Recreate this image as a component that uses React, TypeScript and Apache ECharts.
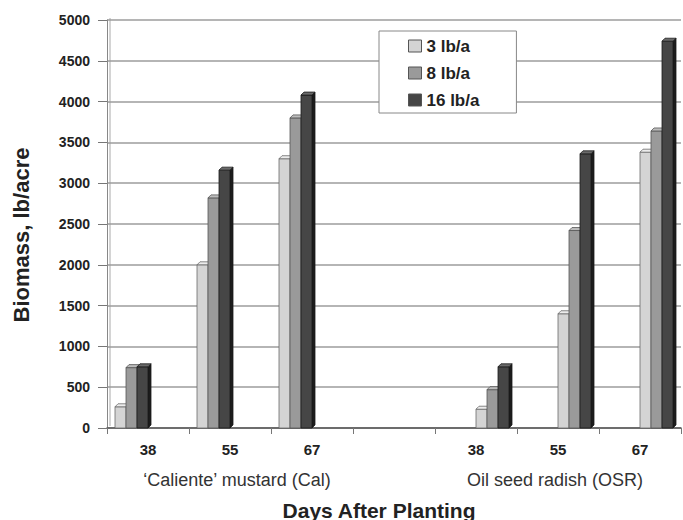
import React, { useEffect, useRef } from "react";
import * as echarts from "echarts";

const categories = ["38", "55", "67", "", "38", "55", "67"];
const seriesNames = ["3 lb/a", "8 lb/a", "16 lb/a"];
const rate3 = [260, 2000, 3300, null, 230, 1400, 3380];
const rate8 = [740, 2820, 3800, null, 470, 2420, 3640];
const rate16 = [750, 3160, 4080, null, 750, 3360, 4740];
const yTicks = { min: 0, max: 5000, interval: 500 };
const groupLabels = ["\u2018Caliente\u2019 mustard (Cal)", "Oil seed radish (OSR)"];
const xTitle = "Days After Planting";
const yTitle = "Biomass, lb/acre";

const FONT = "'Liberation Sans', Arial, Helvetica, sans-serif";

const palette = [
  { front: "#d4d4d4", side: "#a6a6a6", top: "#ececec", edge: "#6a6a6a" },
  { front: "#9a9a9a", side: "#6c6c6c", top: "#bcbcbc", edge: "#555555" },
  { front: "#464646", side: "#1c1c1c", top: "#6a6a6a", edge: "#1a1a1a" },
];

export default function App() {
  const ref = useRef<HTMLDivElement>(null);
  useEffect(() => {
    if (!ref.current) return;
    const chart = echarts.init(ref.current, null, { renderer: "svg" });

    const renderItem = (params: any, api: any) => {
      const ci = api.value(0);
      const v = api.value(1);
      const p0 = api.coord([ci, 0]);
      const p1 = api.coord([ci, v]);
      const bw = api.size([1, 0])[0];
      const si = params.seriesIndex;
      const slot = si + (ci >= 4 ? 3 : 0);
      const w = (bw * 11) / 82;
      const x0 = p0[0] - bw / 2 + (bw * 8) / 82 + slot * w;
      const y0 = p0[1];
      const y1 = p1[1];
      const d = 3;
      const c = palette[si];
      return {
        type: "group",
        children: [
          {
            type: "polygon",
            shape: { points: [[x0 + w, y1], [x0 + w + d, y1 - d], [x0 + w + d, y0 - d], [x0 + w, y0]] },
            style: { fill: c.side, stroke: c.edge, lineWidth: 0.8 },
          },
          {
            type: "rect",
            shape: { x: x0, y: y1, width: w, height: y0 - y1 },
            style: { fill: c.front, stroke: c.edge, lineWidth: 0.8 },
          },
          {
            type: "polygon",
            shape: { points: [[x0, y1], [x0 + d, y1 - d], [x0 + w + d, y1 - d], [x0 + w, y1]] },
            style: { fill: c.top, stroke: c.edge, lineWidth: 0.8 },
          },
        ],
      };
    };

    const allData = [rate3, rate8, rate16];
    const series = allData.map((arr, si) => ({
      type: "custom",
      name: seriesNames[si],
      renderItem,
      clip: false,
      itemStyle: { color: palette[si].front, borderColor: "#555", borderWidth: 1 },
      encode: { x: 0, y: 1 },
      data: arr
        .map((v, i) => (v == null ? null : [i, v]))
        .filter((d) => d != null),
    }));

    chart.setOption({
      animation: false,
      backgroundColor: "#ffffff",
      grid: { left: 107, right: 2, top: 20, bottom: 92 },
      legend: {
        orient: "vertical",
        left: 379,
        top: 31,
        data: seriesNames.map((n) => ({ name: n, icon: "rect" })),
        itemWidth: 13,
        itemHeight: 12,
        itemGap: 9,
        padding: [6, 37, 4, 29],
        borderColor: "#888",
        borderWidth: 1,
        backgroundColor: "#ffffff",
        borderRadius: 0,
        itemStyle: { borderColor: "#555", borderWidth: 1 },
        textStyle: { fontFamily: FONT, fontWeight: "bold", fontSize: 17, color: "#222", lineHeight: 18 },
      },
      xAxis: {
        type: "category",
        data: categories,
        boundaryGap: true,
        axisLine: { show: true, lineStyle: { color: "#555", width: 1.5 } },
        axisTick: { show: true, length: 6, lineStyle: { color: "#777" } },
        axisLabel: { fontFamily: FONT, fontWeight: "bold", fontSize: 15, color: "#222", margin: 14 },
        splitLine: { show: false },
      },
      yAxis: {
        type: "value",
        min: yTicks.min,
        max: yTicks.max,
        interval: yTicks.interval,
        axisLine: { show: true, lineStyle: { color: "#888", width: 1 } },
        axisTick: { show: true, length: 9, lineStyle: { color: "#777" } },
        axisLabel: {
          fontFamily: FONT,
          fontWeight: "bold",
          fontSize: 14,
          color: "#222",
          margin: 17,
          formatter: (v: number) => String(v),
        },
        splitLine: { show: true, lineStyle: { color: "#9c9c9c", width: 1.5 } },
      },
      graphic: [
        {
          type: "line",
          shape: { x1: 110, y1: 18, x2: 110, y2: 426 },
          style: { stroke: "#aaa", lineWidth: 1 },
          silent: true,
        },
        {
          type: "text",
          x: 21,
          y: 235,
          rotation: Math.PI / 2,
          style: {
            text: yTitle,
            font: `bold 22px ${FONT}`,
            fill: "#222",
            align: "center",
            verticalAlign: "middle",
            textAlign: "center",
            textVerticalAlign: "middle",
          },
        },
        {
          type: "text",
          x: 237,
          y: 480,
          style: {
            text: groupLabels[0],
            font: `18px ${FONT}`,
            fill: "#333",
            align: "center",
            verticalAlign: "middle",
            textAlign: "center",
            textVerticalAlign: "middle",
          },
        },
        {
          type: "text",
          x: 555,
          y: 480,
          style: {
            text: groupLabels[1],
            font: `18px ${FONT}`,
            fill: "#333",
            align: "center",
            verticalAlign: "middle",
            textAlign: "center",
            textVerticalAlign: "middle",
          },
        },
        {
          type: "text",
          x: 379,
          y: 510,
          style: {
            text: xTitle,
            font: `bold 21px ${FONT}`,
            fill: "#222",
            align: "center",
            verticalAlign: "middle",
            textAlign: "center",
            textVerticalAlign: "middle",
          },
        },
      ],
      series,
    });
    return () => chart.dispose();
  }, []);

  return (
    <div
      ref={ref}
      style={{ position: "fixed", left: 0, top: 0, width: 683, height: 520, background: "#fff" }}
    />
  );
}
